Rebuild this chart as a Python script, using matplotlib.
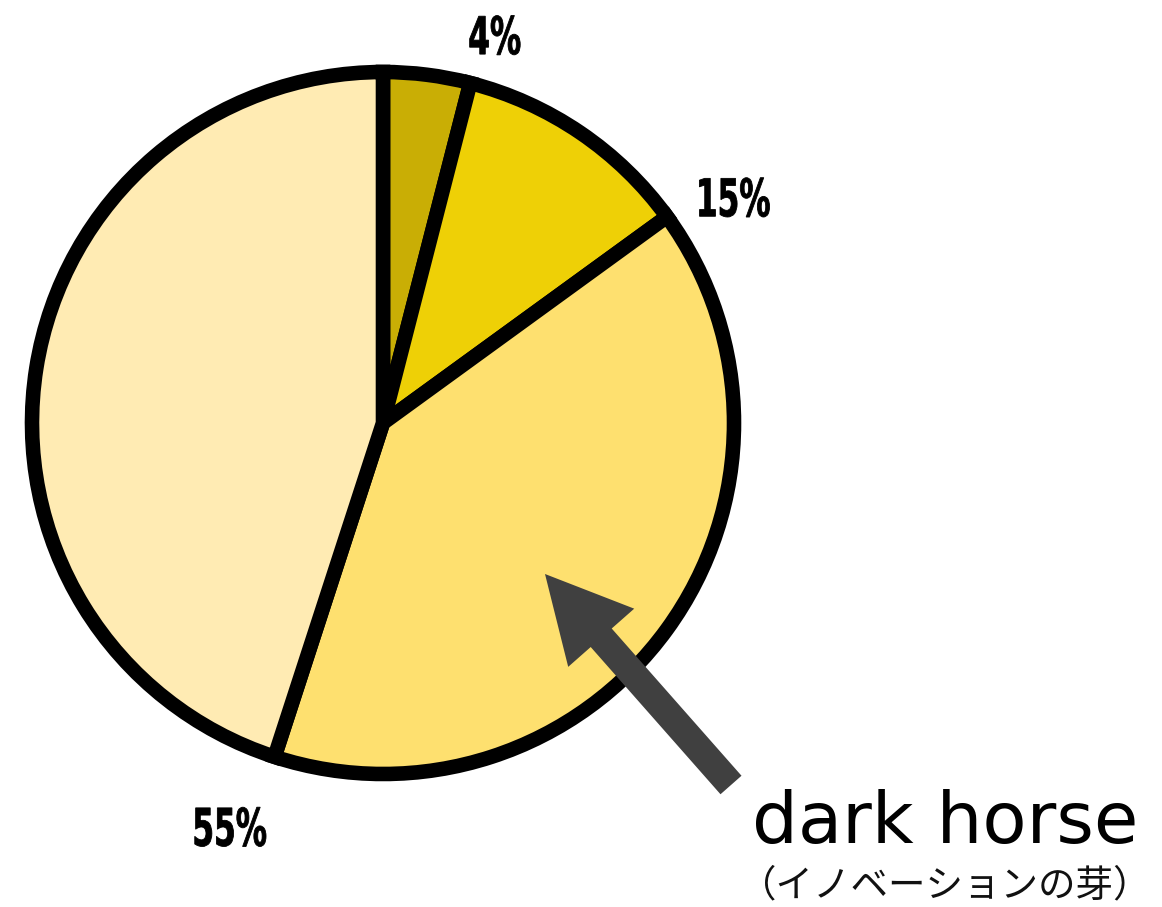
import numpy as np
import matplotlib
matplotlib.use("Agg")
import matplotlib.pyplot as plt
from matplotlib.patches import FancyArrow, PathPatch
from matplotlib.textpath import TextPath
from matplotlib.font_manager import FontProperties
from matplotlib.transforms import Affine2D

# slice shares, clockwise from 12 o'clock
shares = [4, 11, 40, 45]
slice_colors = ["#C9AE05", "#EED006", "#FEE06F", "#FFEBB3"]
cum_labels = [f"{v}%" for v in np.cumsum(shares)[:-1]]

title_text = "dark horse"
sub_text = "（イノベーションの芽）"

W, H = 1162, 907
fig = plt.figure(figsize=(W / 100, H / 100), dpi=100)
ax = fig.add_axes([0, 0, 1, 1])

cx, cy, R = 383, H - 423, 351

ax.pie(shares, colors=slice_colors, startangle=90, counterclock=False,
       center=(cx, cy), radius=R, frame=True,
       wedgeprops=dict(edgecolor="black", linewidth=10.5, joinstyle="miter"))
ax.set_xlim(0, W)
ax.set_ylim(0, H)
ax.axis("off")

# cumulative labels just outside each slice boundary, squeezed like Impact
bold = FontProperties(family="DejaVu Sans", weight="bold")
rfac = [1.15, 1.19, 1.23]
dang = [-1.7, -3.3, -2.7]
for i, lab in enumerate(cum_labels):
    ang = np.deg2rad(90 - 360 * np.cumsum(shares)[i] / 100 + dang[i])
    lx = cx + R * rfac[i] * np.cos(ang)
    ly = cy + R * rfac[i] * np.sin(ang)
    tp = TextPath((0, 0), lab, size=52, prop=bold)
    bb = tp.get_extents()
    tr = Affine2D().translate(-(bb.x0 + bb.x1) / 2, -(bb.y0 + bb.y1) / 2) \
        .scale(0.6, 1.0).translate(lx, ly)
    ax.add_patch(PathPatch(tr.transform_path(tp), facecolor="black",
                           edgecolor="black", linewidth=0.6))

# arrow pointing into the big slice
arr = FancyArrow(731, H - 785, -186, 211, width=28, head_width=88,
                 head_length=85, length_includes_head=True,
                 color="#404040", linewidth=0)
ax.add_patch(arr)

ax.text(945, H - 843, title_text, ha="center", va="baseline",
        fontsize=52, family=["DejaVu Sans"], color="black")
ax.text(945, H - 886, sub_text, ha="center", va="center",
        fontsize=27, family=["Noto Sans CJK JP", "DejaVu Sans"], color="#111111")

fig.savefig("out.png", dpi=100)
